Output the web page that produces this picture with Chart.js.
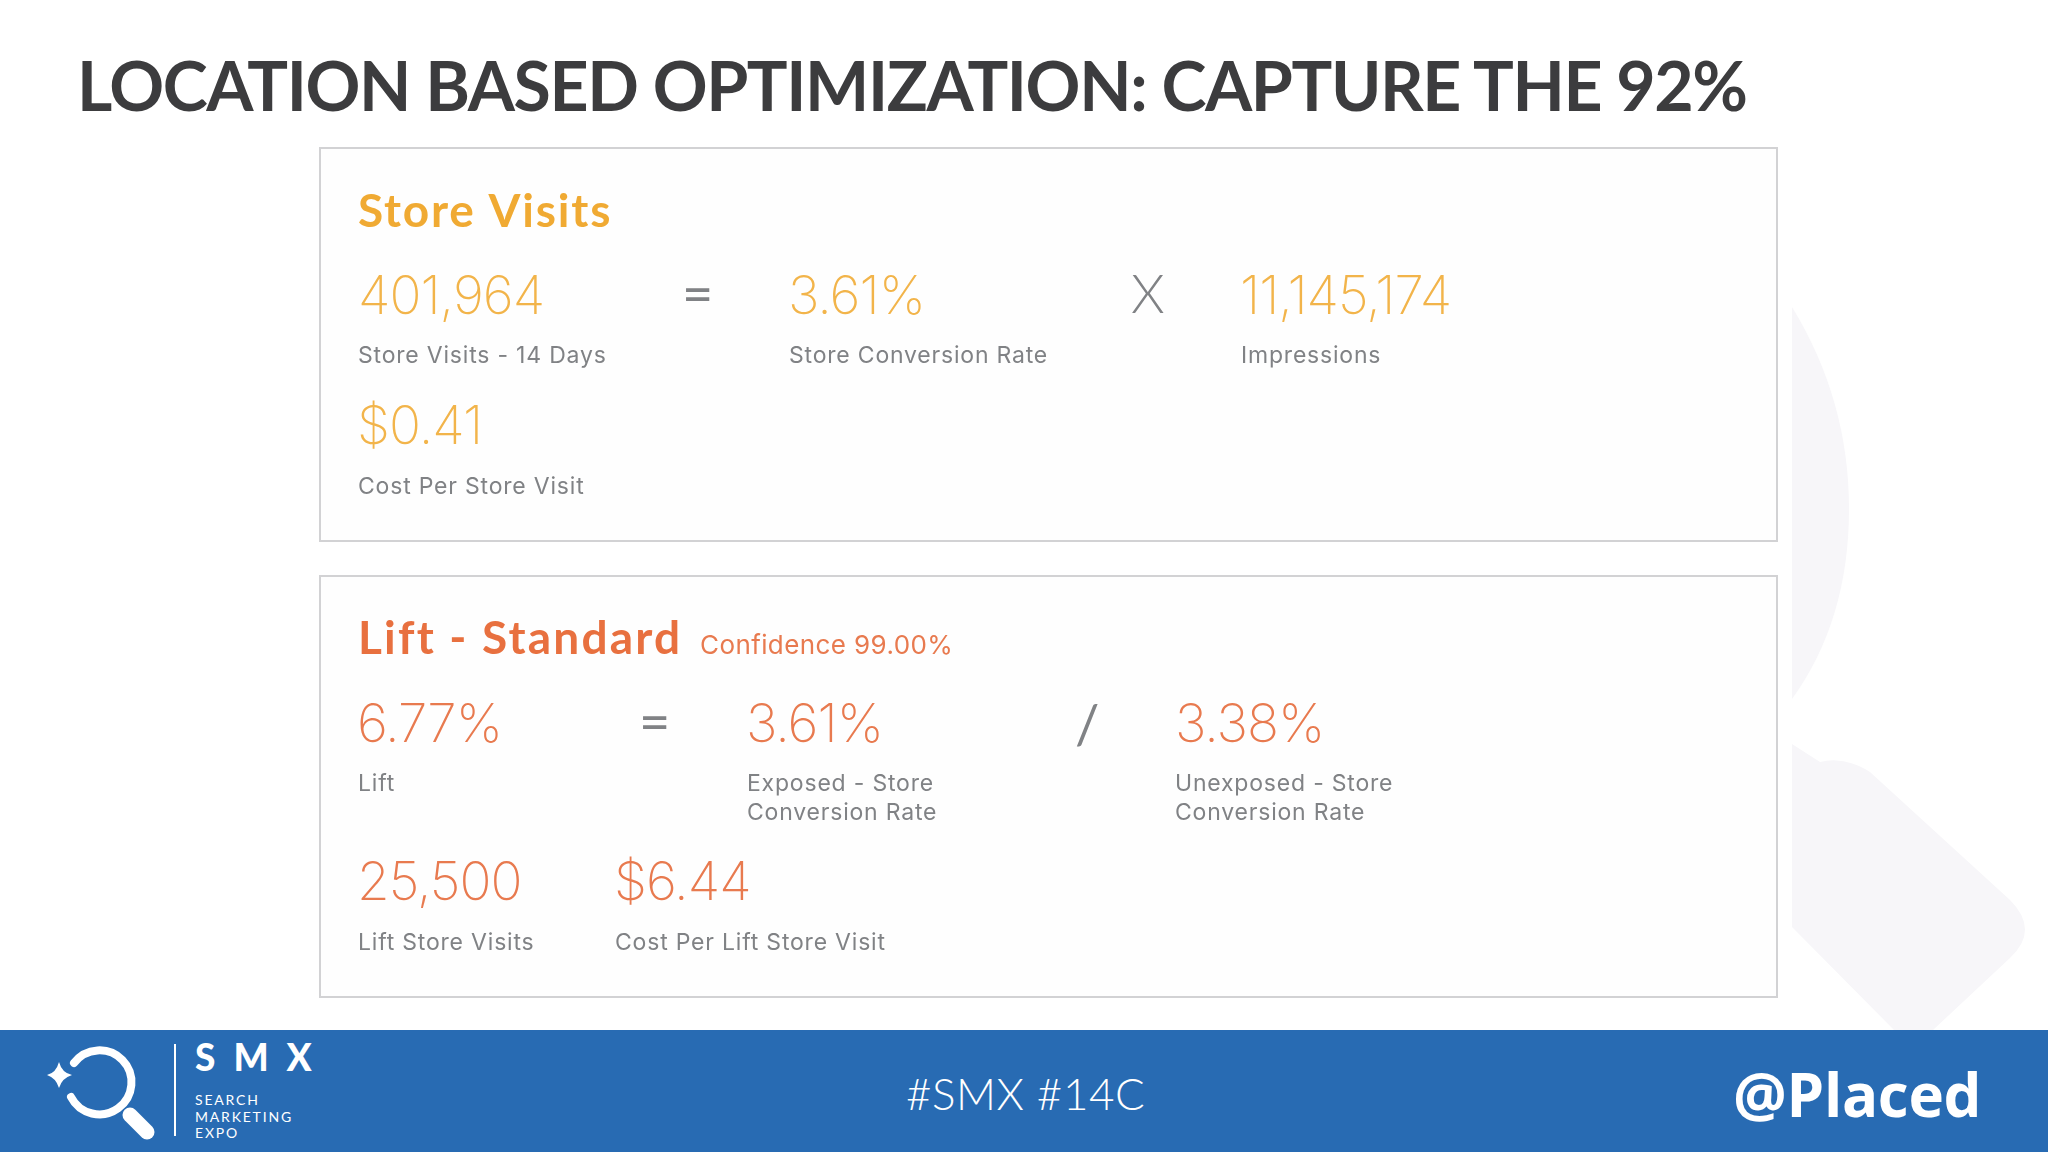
<!DOCTYPE html>
<html lang="en">
<head>
<meta charset="utf-8">
<title>Location based optimization</title>
<script src="https://cdn.jsdelivr.net/npm/chart.js@4/dist/chart.umd.min.js"></script>
<style>
    html, body { margin: 0; padding: 0; background: #fff; }
    #slide { position: relative; width: 2048px; height: 1152px; overflow: hidden; background: #fff; font-family: Lato, sans-serif; }
    #slide div, #slide svg, #slide canvas { position: absolute; }
    #titulo { left: 77px; top: 41px; font-size: 68px; font-weight: 700; color: #3c3c3e; white-space: nowrap; letter-spacing: -1.4px; line-height: 88px; }
    .painel { left: 319px; width: 1459px; background: #fefefe; border: 2px solid #d2d2d4; box-sizing: border-box; }
    #rodape { left: 0; top: 1030px; width: 2048px; height: 122px; background: #286bb3; }
    .branco { color: #fff; white-space: nowrap; }
    #marca { left: 195px; top: 1035px; font-size: 37px; font-weight: 900; letter-spacing: 18px; line-height: 44px; }
    .sub { left: 195px; font-size: 14px; letter-spacing: 1.8px; line-height: 16px; }
    #hashtag { left: 906px; top: 1063px; font-size: 44px; font-weight: 300; letter-spacing: 0.5px; line-height: 60px; }
    #arroba { left: 1733px; top: 1056px; font-size: 60px; font-weight: 700; letter-spacing: -0.3px; line-height: 76px; font-family: "Open Sans", sans-serif; }
    #grafico { left: 0; top: 0; }
</style>
</head>
<body>
<div id="slide">
    <svg width="2048" height="1152" style="left:0;top:0">
        <path d="M1792 307 Q1849 400 1849 509 Q1849 620 1792 699 Z" fill="#f7f6f9"/>
        <path d="M1792 744 L1820 762 Q1845 756 1870 772 L2010 900 Q2040 930 2010 958 L1933 1030 L1894 1030 L1792 927 Z" fill="#f7f6f9"/>
    </svg>
    <div id="titulo">LOCATION BASED OPTIMIZATION: CAPTURE THE 92%</div>
    <div class="painel" style="top:147px;height:395px"></div>
    <div class="painel" style="top:575px;height:423px"></div>
    <div id="rodape"></div>
    <svg width="200" height="122" style="left:0;top:1030px">
        <path d="M74 33 A32 32 0 1 1 71 67" fill="none" stroke="#fff" stroke-width="8" stroke-linecap="round"/>
        <path d="M130 85 L147 102" stroke="#fff" stroke-width="15" stroke-linecap="round"/>
        <path d="M59 32 Q62 43 72 45 Q62 48 59 58 Q56 48 47 45 Q56 43 59 32 Z" fill="#fff"/>
        <rect x="174" y="14" width="2" height="92" fill="#fff"/>
    </svg>
    <div id="marca" class="branco">SMX</div>
    <div class="sub branco" style="top:1092px">SEARCH</div>
    <div class="sub branco" style="top:1109px">MARKETING</div>
    <div class="sub branco" style="top:1125px">EXPO</div>
    <div id="hashtag" class="branco">#SMX #14C</div>
    <div id="arroba" class="branco">@Placed</div>
    <canvas id="grafico" width="2048" height="1152"></canvas>
</div>

<script>
// Dados
const storeTitle = 'Store Visits';
const storeValues = ['401,964', '3.61%', '11,145,174', '$0.41'];
const storeCaptions = ['Store Visits - 14 Days', 'Store Conversion Rate', 'Impressions', 'Cost Per Store Visit'];
const storeOperators = ['=', 'X'];

const liftTitle = 'Lift - Standard';
const liftNote = 'Confidence 99.00%';
const liftValues = ['6.77%', '3.61%', '3.38%', '25,500', '$6.44'];
const liftCaptions = ['Lift', ['Exposed - Store', 'Conversion Rate'], ['Unexposed - Store', 'Conversion Rate'], 'Lift Store Visits', 'Cost Per Lift Store Visit'];
const liftOperators = ['=', '/'];

// Posicoes na escala do slide (x, linha de base)
const storeValueSpots = [[358, 314], [788, 314], [1240, 314], [357, 444]];
const storeCaptionSpots = [[358, 363], [789, 363], [1241, 363], [358, 494]];
const storeOperatorSpots = [[682, 313], [1131, 313]];
const liftValueSpots = [[357, 742], [746, 742], [1175, 742], [357, 900], [614, 900]];
const liftCaptionSpots = [[358, 791], [747, 791], [1175, 791], [358, 950], [615, 950]];
const liftOperatorSpots = [[639, 741], [1075, 744]];

const toPoints = (texts, spots) => texts.map((text, i) => ({ x: spots[i][0], y: spots[i][1], text: text }));

// Cada dataset guarda o estilo do texto que o plugin escreve em cima do ponto
function textSet(label, texts, spots, font, color, spacing) {
    return { label, data: toPoints(texts, spots), font, color, spacing: spacing || '0px', pointRadius: 0, showLine: false };
}

const VALUE_FONT = '200 53px Inter';
const CAPTION_FONT = '400 23px Inter';
const THICK_OPERATOR = '400 54px Lato';
const THIN_OPERATOR = '300 54px Lato';
const YELLOW = '#f2b44a';
const ORANGE = '#e87a4f';
const GREY = '#808285';

// Escreve os textos de cada dataset na posicao calculada pelas escalas
const textPlugin = {
    id: 'textPlugin',
    afterDatasetsDraw(chart) {
        const ctx = chart.ctx;
        ctx.save();
        ctx.textBaseline = 'alphabetic';
        ctx.textAlign = 'left';
        chart.data.datasets.forEach((set, i) => {
            const meta = chart.getDatasetMeta(i);
            ctx.fillStyle = set.color;
            ctx.letterSpacing = set.spacing;
            set.data.forEach((point, j) => {
                ctx.font = Array.isArray(set.font) ? set.font[j] : set.font;
                const el = meta.data[j];
                const lines = Array.isArray(point.text) ? point.text : [point.text];
                lines.forEach((line, n) => ctx.fillText(line, el.x, el.y + n * 29));
            });
        });
        ctx.restore();
    }
};

let chartInstance = null;

document.addEventListener('DOMContentLoaded', () => {
    const ctx = document.getElementById('grafico').getContext('2d');

    chartInstance = new Chart(ctx, {
        type: 'scatter',
        data: {
            datasets: [
                textSet('storeTitle', [storeTitle], [[358, 227]], '700 46px Lato', '#f0aa33', '1.8px'),
                textSet('storeValues', storeValues, storeValueSpots, VALUE_FONT, YELLOW, '-1px'),
                textSet('storeCaptions', storeCaptions, storeCaptionSpots, CAPTION_FONT, GREY, '0.8px'),
                textSet('storeOperators', storeOperators, storeOperatorSpots, [THICK_OPERATOR, THIN_OPERATOR], GREY),
                textSet('liftTitle', [liftTitle], [[358, 654]], '700 46px Lato', '#e8703f', '2.2px'),
                textSet('liftNote', [liftNote], [[700, 654]], '400 26px Inter', ORANGE, '0.4px'),
                textSet('liftValues', liftValues, liftValueSpots, VALUE_FONT, ORANGE, '-1px'),
                textSet('liftCaptions', liftCaptions, liftCaptionSpots, CAPTION_FONT, GREY, '0.8px'),
                textSet('liftOperators', liftOperators, liftOperatorSpots, [THICK_OPERATOR, THICK_OPERATOR], GREY)
            ]
        },
        options: {
            responsive: false,
            animation: false,
            devicePixelRatio: 1,
            layout: { padding: 0 },
            plugins: {
                legend: { display: false },
                tooltip: { enabled: false }
            },
            scales: {
                x: { type: 'linear', display: false, min: 0, max: 2048 },
                y: { type: 'linear', display: false, min: 0, max: 1152, reverse: true }
            }
        },
        plugins: [textPlugin]
    });
});
</script>
</body>
</html>
